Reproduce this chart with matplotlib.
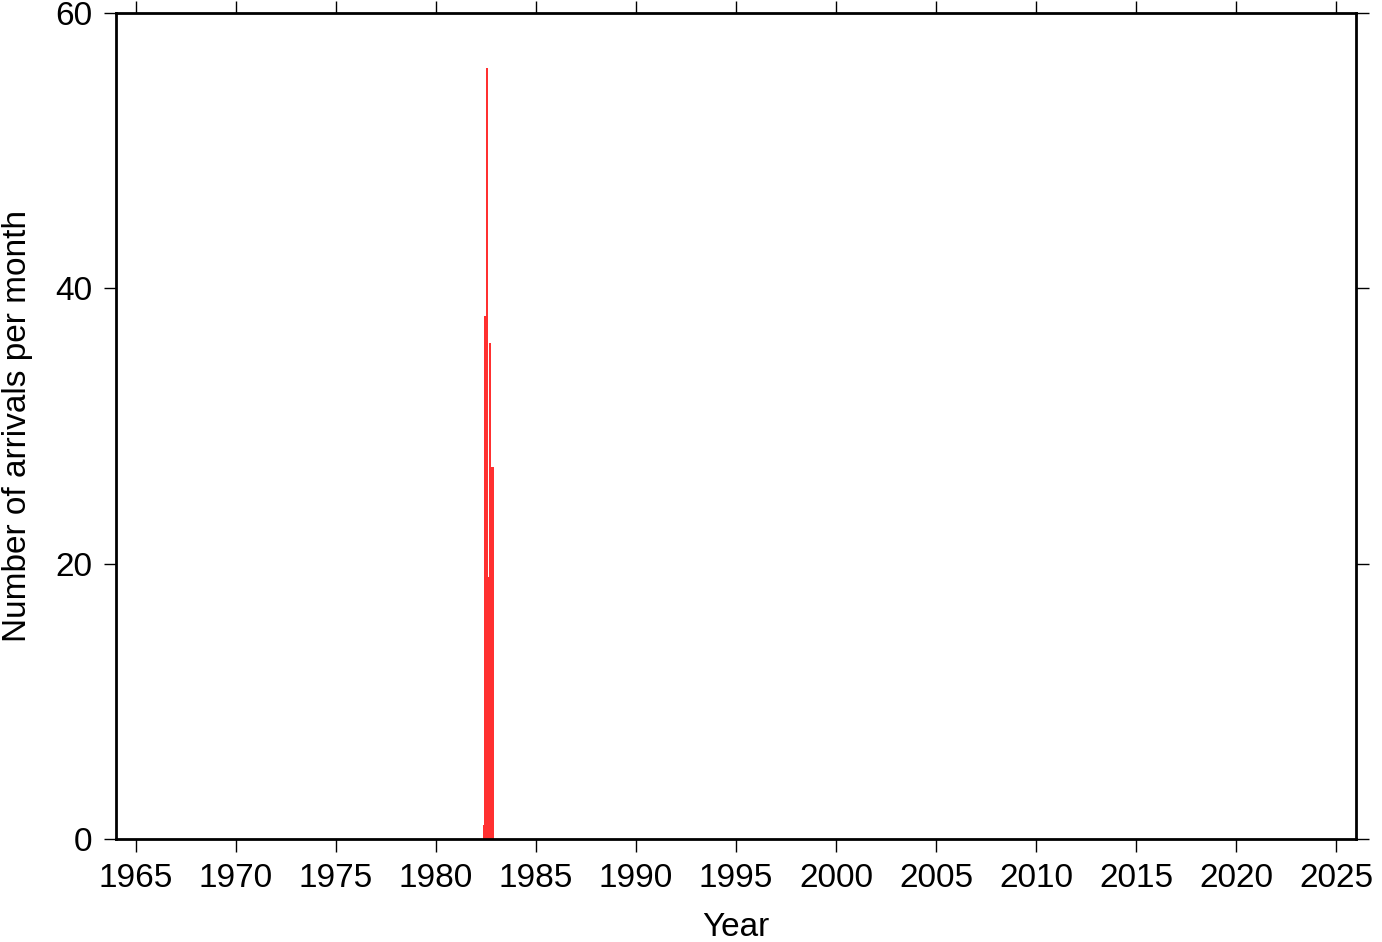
import matplotlib
matplotlib.use("Agg")
import matplotlib.pyplot as plt

plt.rcParams['font.family'] = ['Liberation Sans', 'DejaVu Sans']

# monthly arrival counts, 1982
months = [5, 6, 7, 8, 9, 10, 11]
counts = [1, 38, 56, 19, 36, 27, 27]
year = 1982

xstart = [year + (m - 1) / 12 for m in months]

fig = plt.figure(figsize=(13.82, 9.42), dpi=100)
ax = fig.add_axes([0.0839, 0.1093, 0.8973, 0.8769])

ax.bar(xstart, counts, width=1/12, align='edge', color='#ff3030', linewidth=0)

ax.set_xlim(1964, 2026)
ax.set_ylim(0, 60)
ax.set_xticks(range(1965, 2026, 5))
ax.set_yticks([0, 20, 40, 60])

for s in ax.spines.values():
    s.set_linewidth(2)
ax.tick_params(direction='out', length=9, width=1, labelsize=24, pad=8,
               top=True, right=True, labeltop=False, labelright=False)

ax.set_xlabel('Year', fontsize=24, labelpad=13)
ax.set_ylabel('Number of arrivals per month', fontsize=24, labelpad=16)

fig.savefig('out.png', dpi=100)
